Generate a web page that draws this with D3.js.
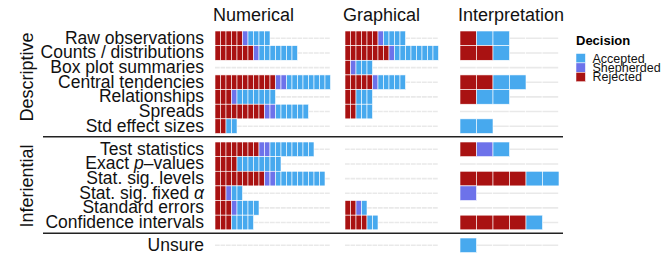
<!DOCTYPE html>
<html>
<head>
<meta charset="utf-8">
<script src="https://cdn.jsdelivr.net/npm/d3@7"></script>
<style>
  body { margin: 0; background: #fff; }
  svg { display: block; font-family: 'Liberation Sans', Arial, Helvetica, sans-serif; }
</style>
</head>
<body>
<div id="chart"></div>
<script>
// Row labels and their groups
const rowLabels = [
  'Raw observations', 'Counts / distributions', 'Box plot summaries', 'Central tendencies',
  'Relationships', 'Spreads', 'Std effect sizes',
  'Test statistics', 'Exact p–values', 'Stat. sig. levels', 'Stat. sig. fixed α',
  'Standard errors', 'Confidence intervals',
  'Unsure'
];
const rowGroups = [
  'Descriptive', 'Descriptive', 'Descriptive', 'Descriptive', 'Descriptive', 'Descriptive', 'Descriptive',
  'Inferiential', 'Inferiential', 'Inferiential', 'Inferiential', 'Inferiential', 'Inferiential',
  'Unsure'
];
const groupNames = ['Descriptive', 'Inferiential', 'Unsure'];
const panelNames = ['Numerical', 'Graphical', 'Interpretation'];
const decisions = ['Rejected', 'Shepherded', 'Accepted'];
const legendOrder = ['Accepted', 'Shepherded', 'Rejected'];

// counts per row (same order as rowLabels)
const numRejected   = [5, 7, 0, 11, 3, 9, 2, 8, 4, 9, 2, 3, 3, 0];
const numShepherded = [1, 1, 0, 2, 1, 2, 0, 2, 0, 2, 1, 1, 0, 0];
const numAccepted   = [4, 7, 0, 8, 7, 6, 2, 8, 8, 9, 2, 4, 4, 0];

const graRejected   = [6, 8, 1, 5, 2, 2, 0, 0, 0, 0, 0, 2, 4, 0];
const graShepherded = [1, 1, 1, 1, 0, 0, 0, 0, 0, 0, 0, 1, 0, 0];
const graAccepted   = [4, 8, 3, 5, 3, 3, 0, 0, 0, 0, 0, 1, 2, 0];

const intRejected   = [1, 2, 0, 2, 1, 0, 0, 1, 0, 4, 0, 0, 4, 0];
const intShepherded = [0, 0, 0, 0, 0, 0, 0, 1, 0, 0, 1, 0, 0, 0];
const intAccepted   = [2, 1, 0, 2, 2, 0, 2, 1, 0, 2, 0, 0, 1, 1];

const panelData = {
  Numerical: { Rejected: numRejected, Shepherded: numShepherded, Accepted: numAccepted },
  Graphical: { Rejected: graRejected, Shepherded: graShepherded, Accepted: graAccepted },
  Interpretation: { Rejected: intRejected, Shepherded: intShepherded, Accepted: intAccepted }
};

const width = 672, height = 254;
const svg = d3.select('#chart').append('svg')
  .attr('width', width)
  .attr('height', height);

const colorScale = d3.scaleOrdinal()
  .domain(['Accepted', 'Shepherded', 'Rejected'])
  .range(['#47a9ee', '#6d72ea', '#a91212']);

// layout of the facets
const panelRange = {
  Numerical: [215, 330.5],
  Graphical: [345, 438.5],
  Interpretation: [460, 559]
};
const groupRange = {
  Descriptive: [31, 133.5],
  Inferiential: [142, 229.8],
  Unsure: [238, 252.6]
};

// y scales, one per group
const yScales = {};
groupNames.forEach(gName => {
  yScales[gName] = d3.scaleBand()
    .domain(rowLabels.filter((d, i) => rowGroups[i] === gName))
    .range(groupRange[gName])
    .padding(0);
});
const yCenter = i => yScales[rowGroups[i]](rowLabels[i]) + yScales[rowGroups[i]].bandwidth() / 2;

panelNames.forEach(pName => {
  const data = panelData[pName];
  const totals = rowLabels.map((d, i) => decisions.reduce((s, k) => s + data[k][i], 0));
  const xScale = d3.scaleLinear()
    .domain([0, d3.max(totals)])
    .range(panelRange[pName]);
  const unit = xScale(1) - xScale(0);

  const g = svg.append('g').attr('class', 'panel');

  // header
  g.append('text')
    .attr('x', xScale(0) - 2)
    .attr('y', 20.5)
    .style('font-size', '18px')
    .style('fill', '#111')
    .text(pName);

  // light dashed guide per row
  g.selectAll('.guide')
    .data(rowLabels)
    .enter().append('line')
    .attr('class', 'guide')
    .attr('x1', xScale(0))
    .attr('x2', xScale.range()[1])
    .attr('y1', (d, i) => yCenter(i))
    .attr('y2', (d, i) => yCenter(i))
    .attr('stroke', '#e9e9e9')
    .attr('stroke-width', 1.6)
    .attr('stroke-dasharray', `${unit - 0.8},0.8`);

  // one tile per submission
  const units = [];
  rowLabels.forEach((label, i) => {
    let pos = 0;
    decisions.forEach(k => {
      for (let n = 0; n < data[k][i]; n++) {
        units.push({ row: i, pos: pos, decision: k });
        pos++;
      }
    });
  });

  g.selectAll('.tile')
    .data(units)
    .enter().append('rect')
    .attr('class', 'tile')
    .attr('x', d => xScale(d.pos))
    .attr('width', unit)
    .attr('y', d => yScales[rowGroups[d.row]](rowLabels[d.row]))
    .attr('height', d => yScales[rowGroups[d.row]].bandwidth())
    .attr('fill', d => colorScale(d.decision))
    .attr('stroke', '#fff')
    .attr('stroke-width', 0.6);
});

// row labels
const labels = svg.selectAll('.row-label')
  .data(rowLabels)
  .enter().append('text')
  .attr('class', 'row-label')
  .attr('x', 204)
  .attr('y', (d, i) => yCenter(i) + 5.5)
  .attr('text-anchor', 'end')
  .style('font-size', '17.5px')
  .style('fill', '#111');

labels.each(function(d) {
  const t = d3.select(this);
  if (d === 'Exact p–values') {
    t.append('tspan').text('Exact ');
    t.append('tspan').style('font-style', 'italic').text('p');
    t.append('tspan').text('–values');
  } else if (d === 'Stat. sig. fixed α') {
    t.append('tspan').text('Stat. sig. fixed ');
    t.append('tspan').style('font-style', 'italic').text('α');
  } else {
    t.text(d);
  }
});

// group labels (rotated)
svg.append('text')
  .attr('transform', 'translate(33, 77) rotate(-90)')
  .attr('text-anchor', 'middle')
  .style('font-size', '18px')
  .style('fill', '#111')
  .text('Descriptive');

svg.append('text')
  .attr('transform', 'translate(33, 186) rotate(-90)')
  .attr('text-anchor', 'middle')
  .style('font-size', '18px')
  .style('fill', '#111')
  .text('Inferiential');

// separators between groups
[136.7, 233.3].forEach(y => {
  svg.append('line')
    .attr('x1', 43)
    .attr('x2', 563)
    .attr('y1', y)
    .attr('y2', y)
    .attr('stroke', '#222')
    .attr('stroke-width', 1.5);
});

// legend
const legend = svg.append('g')
  .attr('class', 'legend')
  .attr('transform', 'translate(576, 45)');

legend.append('text')
  .attr('x', 0)
  .attr('y', 0)
  .style('font-size', '13px')
  .style('font-weight', 'bold')
  .text('Decision');

const legendItems = legend.selectAll('.legend-item')
  .data(legendOrder)
  .enter().append('g')
  .attr('class', 'legend-item')
  .attr('transform', (d, i) => `translate(0, ${8.5 + i * 9.4})`);

legendItems.append('rect')
  .attr('width', 9.4)
  .attr('height', 9.4)
  .attr('fill', d => colorScale(d))
  .attr('stroke', '#fff')
  .attr('stroke-width', 0.5);

legendItems.append('text')
  .attr('x', 16.5)
  .attr('y', 9)
  .style('font-size', '12.5px')
  .style('fill', '#111')
  .text(d => d);
</script>
</body>
</html>
